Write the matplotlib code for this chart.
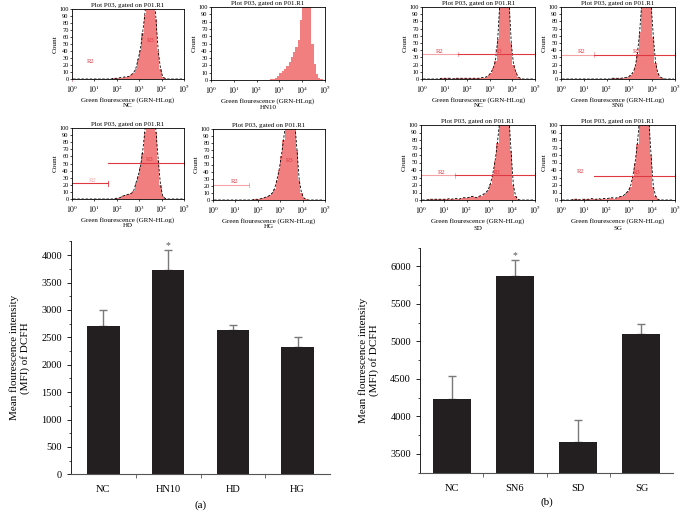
import numpy as np
import matplotlib
matplotlib.use("Agg")
import matplotlib.pyplot as plt

plt.rcParams['font.family'] = ['Liberation Serif', 'DejaVu Serif']
plt.rcParams['mathtext.fontset'] = 'stix'

# ---- histogram counts, one value per 0.1 decade from 10^0 to 10^5 ----
hist_a_nc = [0, 0, 0, 0, 0, 0, 0, 0, 0, 0,
             0, 0, 0, 0, 0, 0, 0, 0, 1, 1,
             1, 2, 2, 3, 3, 4, 6, 9, 15, 28,
             42, 65, 92, 125, 150, 150, 130, 85, 40, 15,
             3, 1, 0, 0, 0, 0, 0, 0, 0, 0]
hist_a_hn10 = [0, 0, 0, 0, 0, 0, 0, 0, 0, 0,
               0, 0, 0, 0, 0, 0, 0, 0, 0, 0,
               0, 0, 0, 0, 0, 0, 1, 2, 3, 6,
               9, 12, 15, 19, 25, 32, 38, 45, 55, 82,
               110, 130, 140, 105, 50, 22, 8, 3, 1, 0]
hist_a_hd = [0, 0, 0, 0, 0, 0, 0, 0, 0, 0,
             0, 0, 0, 0, 0, 0, 0, 0, 0, 1,
             1, 2, 4, 5, 6, 7, 8, 11, 22, 32,
             45, 65, 95, 125, 150, 150, 130, 95, 55, 20,
             4, 1, 0, 0, 0, 0, 0, 0, 0, 0]
hist_a_hg = [0, 0, 0, 0, 0, 0, 0, 0, 0, 0,
             0, 0, 0, 0, 0, 0, 0, 0, 1, 1,
             1, 2, 3, 4, 5, 7, 10, 16, 28, 42,
             62, 85, 110, 135, 150, 140, 110, 70, 28, 10,
             3, 1, 0, 0, 0, 0, 0, 0, 0, 0]
hist_b_nc = [0, 0, 0, 0, 0, 0, 0, 0, 1, 1,
             1, 1, 1, 0, 1, 1, 1, 1, 1, 1,
             1, 1, 1, 1, 1, 1, 2, 2, 3, 5,
             9, 15, 25, 55, 110, 140, 150, 145, 110, 50,
             20, 10, 3, 1, 0, 0, 0, 0, 0, 0]
hist_b_sn6 = [0, 0, 0, 0, 0, 0, 0, 0, 0, 0,
              0, 0, 0, 0, 0, 0, 0, 0, 0, 0,
              0, 0, 1, 1, 1, 1, 1, 2, 2, 3,
              5, 9, 16, 35, 65, 110, 140, 150, 140, 105,
              59, 22, 8, 3, 1, 0, 0, 0, 0, 0]
hist_b_sd = [0, 0, 0, 1, 1, 1, 1, 1, 1, 1,
             1, 1, 2, 1, 2, 2, 1, 2, 3, 3,
             3, 4, 5, 4, 3, 5, 6, 8, 10, 14,
             22, 35, 52, 76, 105, 135, 150, 140, 115, 65,
             20, 5, 1, 0, 0, 0, 0, 0, 0, 0]
hist_b_sg = [0, 0, 0, 0, 0, 1, 1, 1, 0, 1,
             1, 1, 1, 2, 1, 1, 2, 1, 2, 2,
             2, 3, 3, 2, 3, 4, 5, 6, 9, 12,
             18, 32, 50, 75, 110, 140, 150, 140, 110, 60,
             18, 5, 1, 0, 0, 0, 0, 0, 0, 0]

# ---- bar chart data ----
groups_a = ['NC', 'HN10', 'HD', 'HG']
mfi_a = [2707, 3726, 2630, 2323]
err_a = [293, 359, 102, 189]

groups_b = ['NC', 'SN6', 'SD', 'SG']
mfi_b = [4232, 5879, 3665, 5098]
err_b = [313, 201, 290, 130]

W, H = 680, 516
fig = plt.figure(figsize=(W / 100, H / 100), dpi=100)


def px_axes(x0, y0, x1, y1):
    return fig.add_axes([x0 / W, 1 - y1 / H, (x1 - x0) / W, (y1 - y0) / H])


FILL = '#f27f7f'
PINK = '#f3a3a6'
RED = '#e03842'
edges = 10 ** (np.arange(51) / 10)
centers = 10 ** ((np.arange(50) + 0.5) / 10)


def flow_panel(box, counts, name, gates, labels, dashed=True):
    ax = px_axes(*box)
    ax.stairs(counts, edges, fill=True, color=FILL, lw=0)
    if dashed:
        ax.plot(centers, counts, ls=(0, (3, 2)), color='black', lw=0.6)
    for x0, x1, y, c in gates:
        ax.plot([10 ** x0, 10 ** x1], [y, y], color=c, lw=0.8, clip_on=False)
        ax.plot([10 ** x1] * 2, [y - 3, y + 3], color=c, lw=0.6, clip_on=False)
    for x, y, t, c in labels:
        ax.text(10 ** x, y, t, color=c, fontsize=4.8, ha='center', va='bottom')
    ax.set_xscale('log')
    ax.set_xlim(1, 1e5)
    ax.set_ylim(0, 100)
    ax.set_yticks(np.arange(0, 101, 10))
    ax.set_xticks([1, 10, 100, 1e3, 1e4, 1e5])
    ax.set_xticklabels([r'$10^{%d}$' % i for i in range(6)])
    ax.minorticks_off()
    ax.tick_params(axis='y', labelsize=4.6, length=1.5, width=0.5, pad=1)
    ax.tick_params(axis='x', labelsize=5.6, length=1.5, width=0.5, pad=1.5)
    for s in ax.spines.values():
        s.set_linewidth(0.6)
    ax.set_title('Plot P03, gated on P01.R1', fontsize=5, pad=1.5)
    ax.set_ylabel('Count', fontsize=5.2, labelpad=1)
    ax.set_xlabel('Green flourescence (GRN-HLog)', fontsize=5, labelpad=1.5)
    ax.text(0.5, -0.34, name, transform=ax.transAxes, fontsize=5,
            ha='center', va='top')
    return ax


# panel (a) histograms
flow_panel((72, 9, 184, 79), hist_a_nc, 'NC',
           [(0, 0, 0, PINK)],
           [(0.85, 22, 'R2', RED), (3.5, 52, 'R3', RED)])
flow_panel((211, 7, 325, 80), hist_a_hn10, 'HN10', [], [], dashed=False)
flow_panel((72, 128, 184, 199), hist_a_hd, 'HD',
           [(0, 1.6, 22, RED), (1.6, 5, 51, RED)],
           [(0.9, 23, 'R2', PINK), (3.45, 52, 'R3', RED)])
flow_panel((213, 129, 325, 200), hist_a_hg, 'HG',
           [(0, 1.6, 21.6, PINK)],
           [(0.95, 23, 'R2', RED), (3.4, 52, 'R3', RED)])

# panel (b) histograms
flow_panel((422, 7, 535, 79), hist_b_nc, 'NC',
           [(0, 1.6, 34.7, PINK), (1.6, 5, 34.7, RED)],
           [(0.8, 35, 'R2', RED), (3.4, 35, 'R3', RED)])
flow_panel((561, 7, 675, 79), hist_b_sn6, 'SN6',
           [(0, 1.44, 34, PINK), (1.44, 5, 34, RED)],
           [(0.9, 35, 'R2', RED), (3.3, 35, 'R3', RED)])
flow_panel((421, 125, 535, 200), hist_b_sd, 'SD',
           [(0, 1.47, 33, PINK), (1.47, 5, 33, RED)],
           [(0.9, 34, 'R2', RED), (3.3, 34, 'R3', RED)])
flow_panel((561, 125, 675, 200), hist_b_sg, 'SG',
           [(1.45, 5, 32, RED)],
           [(0.85, 35, 'R2', RED), (3.3, 33, 'R3', RED)])


def bar_panel(box, groups, vals, errs, ylim, yticks, width, star_idx, tag):
    ax = px_axes(*box)
    x = np.arange(len(groups))
    ax.bar(x, vals, width=width, color='#231f20', zorder=2)
    ax.errorbar(x, vals, yerr=[[0] * len(vals), errs], fmt='none',
                ecolor='#7a7a7a', elinewidth=1, capsize=3, capthick=1, zorder=1)
    ax.text(x[star_idx], vals[star_idx] + errs[star_idx], '*', ha='center',
            va='bottom', fontsize=7, color='#555555')
    ax.set_xlim(-0.5, len(groups) - 0.5)
    ax.set_ylim(*ylim)
    ax.set_yticks(yticks)
    ax.set_yticks(np.arange(ylim[0], ylim[1] + 1, 250), minor=True)
    ax.set_xticks(x)
    ax.set_xticklabels(groups)
    ax.set_xticks(x[:-1] + 0.5, minor=True)
    ax.tick_params(axis='x', which='major', length=0, labelsize=7.5, pad=8)
    ax.tick_params(axis='x', which='minor', length=3, width=0.6, color='#555555')
    ax.tick_params(axis='y', which='major', length=3, width=0.6, labelsize=7.5)
    ax.tick_params(axis='y', which='minor', length=1.5, width=0.5)
    ax.spines['top'].set_visible(False)
    ax.spines['right'].set_visible(False)
    ax.spines['left'].set_linewidth(0.6)
    ax.spines['bottom'].set_linewidth(0.8)
    ax.spines['bottom'].set_color('#555555')
    ax.set_ylabel('Mean flourescence intensity\n(MFI) of DCFH', fontsize=8,
                  labelpad=8)
    ax.text(0.5, -0.11, tag, transform=ax.transAxes, ha='center', va='top',
            fontsize=8)
    return ax


bar_panel((71, 241.4, 330, 474.3), groups_a, mfi_a, err_a, (0, 4250),
          np.arange(0, 4001, 500), 0.5, 1, '(a)')
bar_panel((420, 247.7, 673, 472.7), groups_b, mfi_b, err_b, (3250, 6250),
          np.arange(3500, 6001, 500), 0.6, 1, '(b)')

fig.savefig('out.png', dpi=100, facecolor='white')
